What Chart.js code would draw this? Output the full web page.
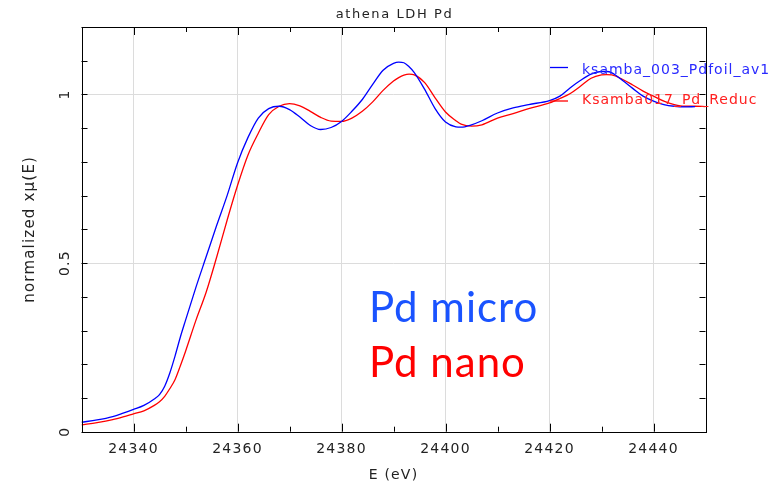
<!DOCTYPE html>
<html><head><meta charset="utf-8">
<script src="https://cdn.jsdelivr.net/npm/chart.js@4.4.1/dist/chart.umd.min.js"></script>
<style>html,body{margin:0;padding:0;background:#fff}#wrap{width:784px;height:487px;position:relative}</style>
</head><body><div id="wrap"><canvas id="c" width="784" height="487"></canvas></div>
<script>
const energy = [24330,24333,24336,24338,24340,24342,24344,24345,24346,24347,24348,24349,24350,24352,24354,24356,24358,24360,24362,24364,24366,24368,24370,24372,24374,24376,24378,24380,24382,24384,24386,24388,24390,24391,24392,24393,24394,24396,24398,24400,24402,24403,24405,24407,24410,24413,24416,24420,24422,24424,24426,24428,24430,24431,24432,24434,24436,24438,24440,24442,24444,24446,24448,24450];
const micro = [0.028,0.035,0.045,0.055,0.066,0.078,0.097,0.110,0.135,0.175,0.225,0.280,0.330,0.428,0.520,0.612,0.700,0.797,0.872,0.930,0.958,0.965,0.955,0.933,0.908,0.896,0.902,0.920,0.950,0.985,1.030,1.072,1.092,1.096,1.094,1.082,1.065,1.015,0.958,0.918,0.904,0.903,0.910,0.922,0.945,0.960,0.970,0.982,0.995,1.020,1.042,1.060,1.068,1.068,1.064,1.042,1.018,0.995,0.980,0.970,0.965,0.963,0.964,null];
const nano = [0.020,0.027,0.036,0.044,0.053,0.062,0.078,0.089,0.105,0.128,0.155,0.195,0.238,0.330,0.415,0.518,0.627,0.730,0.820,0.885,0.940,0.965,0.973,0.966,0.950,0.932,0.921,0.920,0.930,0.950,0.978,1.012,1.040,1.050,1.057,1.060,1.058,1.035,0.990,0.948,0.922,0.912,0.906,0.910,0.930,0.943,0.958,0.975,0.988,1.003,1.025,1.048,1.058,1.059,1.058,1.045,1.028,1.010,0.995,0.980,0.970,0.965,0.965,0.964];
const xTicks = [24340,24360,24380,24400,24420,24440];
const yTicks = [0,0.5,1];
const titleText = 'athena LDH Pd';
const xTitle = 'E (eV)';
const yTitle = 'normalized xμ(E)';
const legendLabels = ['ksamba_003_Pdfoil_av1','Ksamba017_Pd_Reduc'];
const noteLabels = ['Pd micro','Pd nano'];

const BLUE = '#0000ff', RED = '#ff0000';
const toXY = (vals) => energy.map((e,i)=>({x:e,y:vals[i]})).filter(p=>p.y!==null);

const spacing = {
  id:'spacing',
  beforeDraw(chart){ chart.ctx.letterSpacing='1.2px'; }
};

const frame = {
  id:'frame',
  afterDatasetsDraw(chart){
    const {ctx, chartArea:a, scales:{x,y}} = chart;
    ctx.save();
    ctx.strokeStyle='#000'; ctx.lineWidth=1;
    ctx.beginPath();
    for (let e=24330; e<=24450; e+=10){
      const px=Math.round(x.getPixelForValue(e))+0.5; const L=(e%20===0)?8:5;
      ctx.moveTo(px,a.bottom); ctx.lineTo(px,a.bottom-L);
      ctx.moveTo(px,a.top); ctx.lineTo(px,a.top+L);
    }
    for (let i=0;i<=12;i++){
      const py=Math.round(y.getPixelForValue(i/10))+0.5; const L=6;
      ctx.moveTo(a.left,py); ctx.lineTo(a.left+L,py);
      ctx.moveTo(a.right,py); ctx.lineTo(a.right-L,py);
    }
    ctx.stroke();
    ctx.strokeRect(Math.round(a.left)+0.5, Math.round(a.top)+0.5, Math.round(a.right-a.left), Math.round(a.bottom-a.top));
    // title
    ctx.fillStyle='#222'; ctx.font='13px "DejaVu Sans"'; ctx.textAlign='center'; ctx.textBaseline='middle';
    ctx.letterSpacing='1.6px';
    ctx.fillText(titleText,(a.left+a.right)/2+1,15);
    // legend
    ctx.beginPath(); ctx.rect(0,0,771,487); ctx.clip();
    ctx.font='14px "DejaVu Sans"'; ctx.textAlign='left'; ctx.letterSpacing='1px';
    ctx.lineWidth=1.3;
    ctx.strokeStyle=BLUE; ctx.beginPath(); ctx.moveTo(550,67.5); ctx.lineTo(568,67.5); ctx.stroke();
    ctx.strokeStyle=RED; ctx.beginPath(); ctx.moveTo(550,101); ctx.lineTo(568,101); ctx.stroke();
    ctx.fillStyle='#2a2aff'; ctx.fillText(legendLabels[0],582,70);
    ctx.fillStyle='#ff2020'; ctx.fillText(legendLabels[1],582,100);
    // notes
    ctx.letterSpacing='1px';
    ctx.font='42px Lato'; ctx.textBaseline='alphabetic';
    ctx.fillStyle='#1a53ff'; ctx.fillText(noteLabels[0],369,321.5);
    ctx.fillStyle='#ff0000'; ctx.fillText(noteLabels[1],369,377);
    ctx.restore();
  }
};

new Chart(document.getElementById('c'), {
  type:'line',
  data:{datasets:[
    {label:legendLabels[0], data:toXY(micro), borderColor:BLUE, borderWidth:1.3, pointRadius:0, cubicInterpolationMode:'monotone', fill:false},
    {label:legendLabels[1], data:toXY(nano), borderColor:RED, borderWidth:1.3, pointRadius:0, cubicInterpolationMode:'monotone', fill:false}
  ]},
  options:{
    responsive:false, animation:false, devicePixelRatio:1,
    layout:{padding:{left:0,right:78.5,top:27,bottom:0}},
    plugins:{legend:{display:false}, tooltip:{enabled:false}},
    scales:{
      x:{type:'linear', min:24330, max:24450,
        afterBuildTicks:(s)=>{s.ticks=xTicks.map(v=>({value:v}));},
        afterFit:(s)=>{s.height=55.3;},
        grid:{color:(c)=>'#dcdcdc', drawTicks:false, lineWidth:1},
        border:{display:false},
        ticks:{color:'#222', font:{family:'DejaVu Sans', size:14}, padding:9, maxRotation:0, minRotation:0, callback:(v)=>String(v)},
        title:{display:true, text:xTitle, color:'#222', font:{family:'DejaVu Sans', size:14}, padding:3}
      },
      y:{type:'linear', min:0, max:1.2,
        afterBuildTicks:(s)=>{s.ticks=yTicks.map(v=>({value:v}));},
        afterFit:(s)=>{s.width=81.5;},
        grid:{color:(c)=>c.tick && c.tick.value===0?'rgba(0,0,0,0)':'#dcdcdc', drawTicks:false, lineWidth:1},
        border:{display:false},
        ticks:{color:'#222', font:{family:'DejaVu Sans', size:14}, padding:5, minRotation:90, maxRotation:90, crossAlign:'center', callback:(v)=>String(v)},
        title:{display:true, text:yTitle, color:'#222', font:{family:'DejaVu Sans', size:15}, padding:21}
      }
    }
  },
  plugins:[spacing, frame]
});
</script></body></html>
